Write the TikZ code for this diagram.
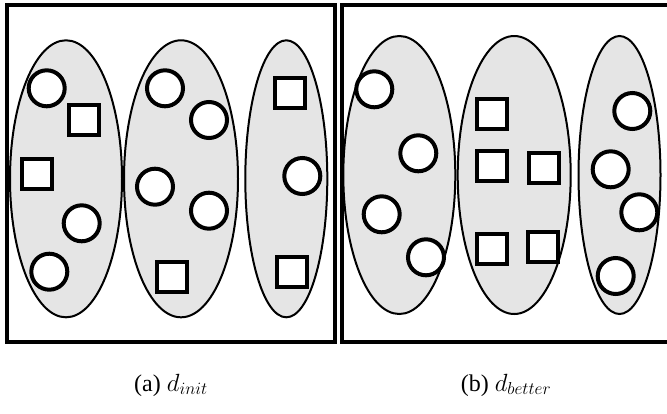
\documentclass[tikz,border=0pt]{standalone}
\usepackage{fontspec}
\setmainfont{Liberation Serif}
\usetikzlibrary{shapes,arrows}
\usetikzlibrary{shapes.geometric,positioning}

\begin{document}
\begin{tikzpicture}[x=1pt,y=-1pt]
		\tikzstyle{frame} = [line width=4pt,draw]
		\tikzstyle{group} = [ellipse,draw,line width=2pt,fill=black!10,inner sep=0pt]
		\tikzstyle{pt} = [circle,draw,line width=4pt,fill=white,minimum size=36pt,inner sep=0pt]
		\tikzstyle{sq} = [rectangle,draw,line width=4pt,fill=white,minimum size=30pt,inner sep=0pt]
		\tikzstyle{caption} = [font=\fontsize{24}{28}\selectfont]
		
		\useasboundingbox (0,0) rectangle (667,413);
		\clip (0,0) rectangle (667,413);
		
		% Frames
		\draw [frame] (7,4.7) rectangle (334.5,342);
		\draw [frame] (341.7,4.7) rectangle (690,342);
		
		% Groups of d_init
		\node [group, minimum width=112pt, minimum height=277pt] (initA) at (66,178.8) {};
		\node [group, minimum width=114pt, minimum height=277pt] (initB) at (181,178.8) {};
		\node [group, minimum width=82pt, minimum height=277pt] (initC) at (286.3,178.8) {};
		
		\node [pt] (initA1) at (46.7,88.3) {};
		\node [sq] (initA2) at (83.7,120) {};
		\node [sq] (initA3) at (37,174.3) {};
		\node [pt] (initA4) at (81.7,223.3) {};
		\node [pt] (initA5) at (49.3,271.7) {};
		
		\node [pt] (initB1) at (165,88.3) {};
		\node [pt] (initB2) at (209,120) {};
		\node [pt] (initB3) at (155,186.7) {};
		\node [pt] (initB4) at (209,210.7) {};
		\node [sq] (initB5) at (172.3,277.3) {};
		
		\node [sq] (initC1) at (290,92.7) {};
		\node [pt] (initC2) at (302.3,176) {};
		\node [sq] (initC3) at (292.3,272.3) {};
		
		% Groups of d_better
		\node [group, minimum width=112pt, minimum height=278pt] (betterA) at (399.3,175) {};
		\node [group, minimum width=113pt, minimum height=278pt] (betterB) at (514.2,175) {};
		\node [group, minimum width=82pt, minimum height=278pt] (betterC) at (619.5,175) {};
		
		\node [pt] (betterA1) at (374.3,89.3) {};
		\node [pt] (betterA2) at (418.3,153.3) {};
		\node [pt] (betterA3) at (381.7,214.3) {};
		\node [pt] (betterA4) at (426,257.3) {};
		
		\node [sq] (betterB1) at (492.3,114.3) {};
		\node [sq] (betterB2) at (492.3,165.7) {};
		\node [sq] (betterB3) at (544.3,168.3) {};
		\node [sq] (betterB4) at (492.3,249.3) {};
		\node [sq] (betterB5) at (543.3,246.7) {};
		
		\node [pt] (betterC1) at (632.3,111) {};
		\node [pt] (betterC2) at (610.7,169.3) {};
		\node [pt] (betterC3) at (639.3,212.3) {};
		\node [pt] (betterC4) at (615.7,276) {};
		
		% Captions
		\node [caption] (capInit) at (171,385) {(a) $d_{init}$};
		\node [caption] (capBetter) at (506,385) {(b) $d_{better}$};
	\end{tikzpicture}
\end{document}
